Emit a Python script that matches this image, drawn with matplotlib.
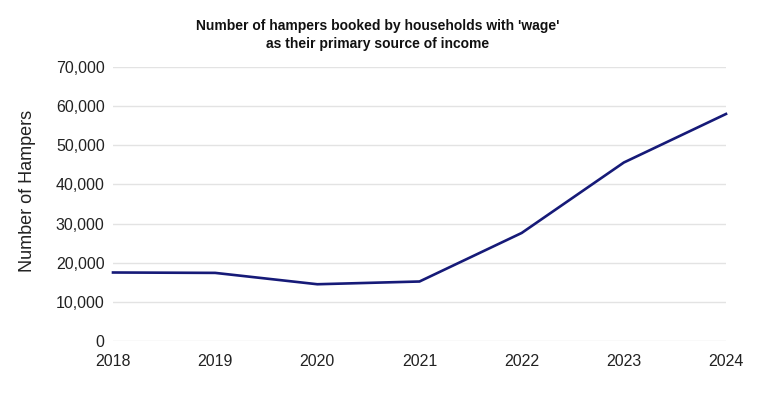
import matplotlib
matplotlib.use("Agg")
import matplotlib.pyplot as plt
from matplotlib.ticker import FuncFormatter

years = [2018, 2019, 2020, 2021, 2022, 2023, 2024]
hampers = [17500, 17400, 14500, 15200, 27600, 45600, 58000]
title = "Number of hampers booked by households with 'wage'\nas their primary source of income"
ylabel = "Number of Hampers"

plt.rcParams['font.family'] = ['Liberation Sans', 'DejaVu Sans']

fig = plt.figure(figsize=(7.58, 3.98), dpi=100)
ax = fig.add_axes([113/758, 1-341/398, (726-113)/758, (341-67)/398])

ax.plot(years, hampers, color='#161a78', linewidth=1.9, solid_joinstyle='miter', clip_on=False, zorder=3)
ax.set_xlim(2018, 2024)
ax.set_ylim(0, 70000)
ax.set_yticks(range(0, 70001, 10000))
ax.set_xticks(years)
ax.yaxis.set_major_formatter(FuncFormatter(lambda v, p: f"{int(v):,}"))
ax.grid(axis='y', color='#e3e3e3', linewidth=1.0)
ax.set_axisbelow(True)
for s in ax.spines.values():
    s.set_visible(False)
ax.tick_params(axis='both', length=0, labelsize=11.5, colors='#222222')
ax.tick_params(axis='y', pad=6)
ax.tick_params(axis='x', pad=9)

fig.text(28/758, 1-191/398, ylabel, ha='center', va='center', rotation=90,
         fontsize=13, color='#222222')

fig.text(378/758, 1-35/398, title, ha='center', va='center', fontsize=10,
         fontweight='bold', color='#111111', linespacing=1.4)

fig.savefig("out.png", dpi=100)
